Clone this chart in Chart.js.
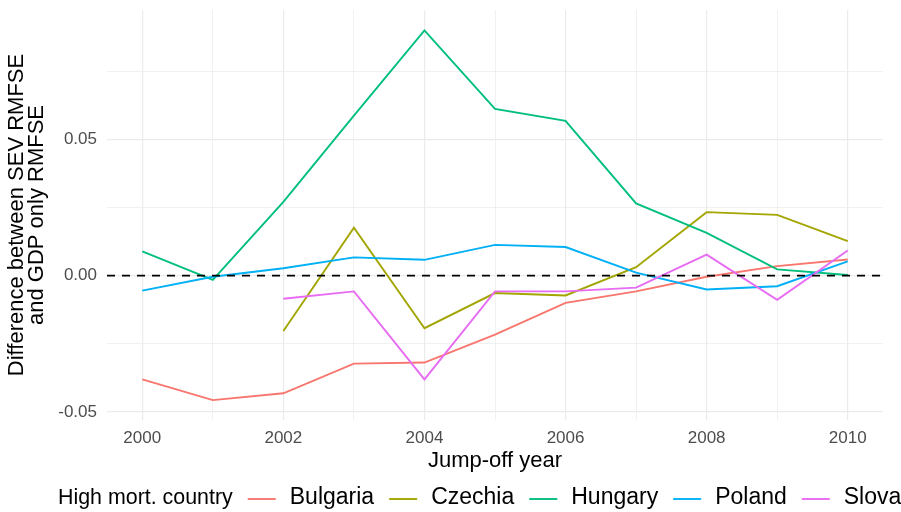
<!DOCTYPE html>
<html>
<head>
<meta charset="utf-8">
<script src="https://cdn.jsdelivr.net/npm/chart.js@4"></script>
<style>
  html, body { margin: 0; padding: 0; background: #ffffff; }
  #wrap { width: 901px; height: 512px; }
</style>
</head>
<body>
<div id="wrap"><canvas id="chart" width="901" height="512"></canvas></div>
<script>
// Jump-off years and difference in RMFSE (SEV model minus GDP-only model)
const years = [2000, 2001, 2002, 2003, 2004, 2005, 2006, 2007, 2008, 2009, 2010];
const bulgaria = [-0.0381, -0.0457, -0.0432, -0.0323, -0.0319, -0.0217, -0.0100, -0.0058, -0.0004, 0.0035, 0.0059];
const czechia  = [null, null, -0.0203, 0.0176, -0.0193, -0.0064, -0.0073, 0.0031, 0.0233, 0.0223, 0.0127];
const hungary  = [0.0089, -0.0016, 0.0271, 0.0587, 0.0900, 0.0612, 0.0568, 0.0265, 0.0157, 0.0023, 0.0002];
const poland   = [-0.0055, -0.0004, 0.0027, 0.0067, 0.0058, 0.0113, 0.0105, 0.0011, -0.0051, -0.0039, 0.0052];
const slovakia = [null, null, -0.0085, -0.0058, -0.0381, -0.0058, -0.0058, -0.0044, 0.0077, -0.0089, 0.0092];

const countries = ['Bulgaria', 'Czechia', 'Hungary', 'Poland', 'Slovakia'];
const seriesValues = [bulgaria, czechia, hungary, poland, slovakia];
const colors = ['#F8766D', '#A3A500', '#00BF7D', '#00B0F6', '#E76BF3'];

const xMajorTicks = [2000, 2002, 2004, 2006, 2008, 2010];
const yTicks = [-0.05, -0.025, 0, 0.025, 0.05, 0.075];
const yMajorTicks = [-0.05, 0, 0.05];
const referenceValue = 0;

const legendTitle = 'High mort. country';
const xTitle = 'Jump-off year';
const yTitle = ['Difference between SEV RMFSE', 'and GDP only RMFSE'];

const FONT = '"Liberation Sans", Arial, Helvetica, sans-serif';
const isMajor = (v, list) => list.some(m => Math.abs(m - v) < 1e-9);

const datasets = seriesValues.map((vals, i) => ({
  label: countries[i],
  data: years.map((y, j) => ({ x: y, y: vals[j] })),
  borderColor: colors[i],
  backgroundColor: colors[i],
  borderWidth: 1.9,
  pointRadius: 0,
  tension: 0,
  spanGaps: false,
  order: countries.length - i
}));

// dashed reference line across the whole panel at y = 0
const referenceLine = {
  id: 'referenceLine',
  afterDatasetsDraw(chart) {
    const { ctx, chartArea, scales } = chart;
    const py = scales.y.getPixelForValue(referenceValue);
    ctx.save();
    ctx.strokeStyle = '#000000';
    ctx.lineWidth = 1.9;
    ctx.setLineDash([8, 7]);
    ctx.beginPath();
    ctx.moveTo(chartArea.left, py);
    ctx.lineTo(chartArea.right, py);
    ctx.stroke();
    ctx.restore();
  }
};

// horizontal legend beneath the axis title
const bottomLegend = {
  id: 'bottomLegend',
  afterDraw(chart) {
    const { ctx } = chart;
    const y = 498;
    ctx.save();
    ctx.textBaseline = 'middle';
    ctx.textAlign = 'left';
    ctx.fillStyle = '#000000';
    let x = 58;
    ctx.font = '21.4px ' + FONT;
    ctx.fillText(legendTitle, x, y);
    x += ctx.measureText(legendTitle).width + 15;
    ctx.font = '23px ' + FONT;
    chart.data.datasets.forEach(ds => {
      ctx.strokeStyle = ds.borderColor;
      ctx.lineWidth = 1.9;
      ctx.beginPath();
      ctx.moveTo(x, y + 1);
      ctx.lineTo(x + 28, y + 1);
      ctx.stroke();
      x += 28 + 14;
      ctx.fillStyle = '#000000';
      ctx.fillText(ds.label, x, y);
      x += ctx.measureText(ds.label).width + 15;
    });
    ctx.restore();
  }
};

new Chart(document.getElementById('chart'), {
  type: 'line',
  data: { datasets },
  plugins: [referenceLine, bottomLegend],
  options: {
    responsive: false,
    animation: false,
    devicePixelRatio: 1,
    layout: { padding: { left: 0, right: 18, top: 10, bottom: 40 } },
    plugins: { legend: { display: false }, tooltip: { enabled: false } },
    scales: {
      x: {
        type: 'linear',
        min: 1999.5,
        max: 2010.5,
        afterBuildTicks(scale) { scale.ticks = years.map(v => ({ value: v })); },
        afterFit(scale) { scale.height = 52; scale.paddingLeft = 0; scale.paddingRight = 0; },
        border: { display: false },
        grid: {
          drawTicks: false,
          color: '#EBEBEB',
          lineWidth: ctx => (ctx.tick && isMajor(ctx.tick.value, xMajorTicks)) ? 1.2 : 0.7
        },
        ticks: {
          autoSkip: false,
          maxRotation: 0,
          padding: 8,
          color: '#4D4D4D',
          font: { family: FONT, size: 17 },
          callback: v => isMajor(v, xMajorTicks) ? String(v) : ''
        },
        title: {
          display: true,
          text: xTitle,
          color: '#000000',
          font: { family: FONT, size: 22, lineHeight: '22px' },
          padding: { top: 0, bottom: 0 }
        }
      },
      y: {
        type: 'linear',
        min: -0.0530,
        max: 0.0975,
        afterBuildTicks(scale) { scale.ticks = yTicks.map(v => ({ value: v })); },
        afterFit(scale) { scale.width = 107; scale.paddingTop = 0; scale.paddingBottom = 0; },
        border: { display: false },
        grid: {
          drawTicks: false,
          color: '#EBEBEB',
          lineWidth: ctx => (ctx.tick && isMajor(ctx.tick.value, yMajorTicks)) ? 1.2 : 0.7
        },
        ticks: {
          autoSkip: false,
          padding: 10,
          color: '#4D4D4D',
          font: { family: FONT, size: 17 },
          callback: v => isMajor(v, yMajorTicks) ? v.toFixed(2) : ''
        },
        title: {
          display: true,
          text: yTitle,
          color: '#000000',
          font: { family: FONT, size: 22, lineHeight: '20px' },
          padding: { top: 7, bottom: 0 }
        }
      }
    }
  }
});
</script>
</body>
</html>
